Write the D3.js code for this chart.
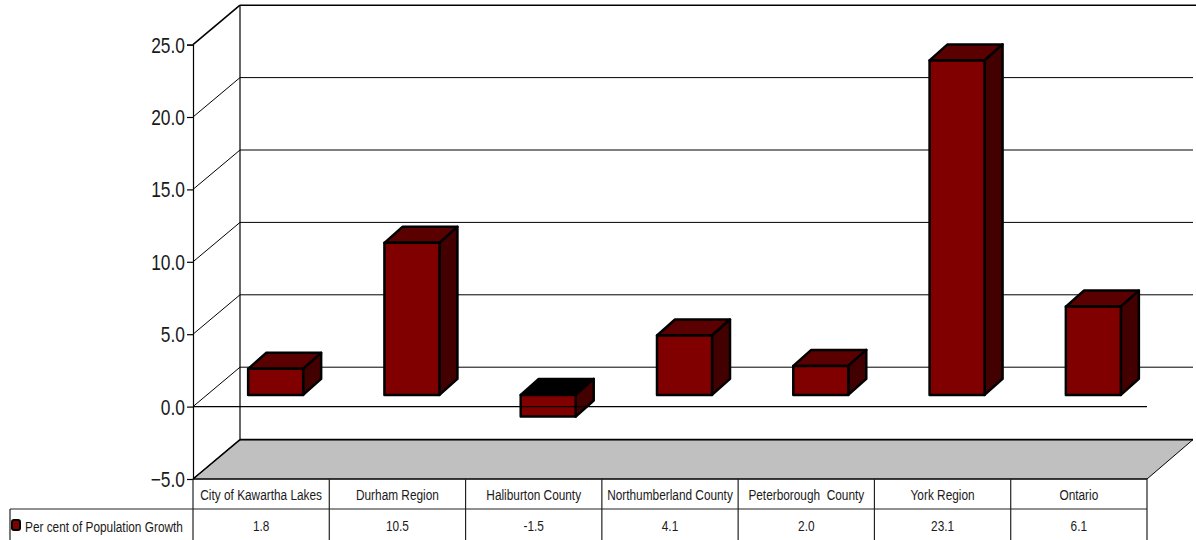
<!DOCTYPE html>
<html>
<head>
<meta charset="utf-8">
<script src="https://cdn.jsdelivr.net/npm/d3@7"></script>
<style>
html,body{margin:0;padding:0;background:#fff;}
svg{display:block;}
text{font-family:"Liberation Sans",Arial,sans-serif;fill:#1a1a1a;}
</style>
</head>
<body>
<svg id="chart" width="1196" height="540"></svg>
<script>
const categories = ["City of Kawartha Lakes","Durham Region","Haliburton County","Northumberland County","Peterborough  County","York Region","Ontario"];
const growth = [1.8,10.5,-1.5,4.1,2.0,23.1,6.1];
const growthLabels = ["1.8","10.5","-1.5","4.1","2.0","23.1","6.1"];
const yTicks = [-5,0,5,10,15,20,25];
const seriesName = "Per cent of Population Growth";

const svg = d3.select("#chart");
const plot = {left:193,right:1147,top:44.6,bottom:479};
const depth = {x:47,y:39.4};        // offset of the back wall
const barDepth = {x:18,y:16};       // depth of each column
const barShift = {x:13,y:11.7};     // columns stand slightly behind the front plane
const rows = [479,509,540];
const legendLeft = 10;
const condense = 0.79;              // horizontal squeeze giving a narrow typeface

const y = d3.scaleLinear().domain([-5,25]).range([plot.bottom,plot.top]);
const x = d3.scaleBand().domain(categories).range([plot.left,plot.right]);
const barW = 55;

const line = (g,x1,y1,x2,y2,w=1,c="#000") => g.append("line")
  .attr("x1",x1).attr("y1",y1).attr("x2",x2).attr("y2",y2)
  .attr("stroke",c).attr("stroke-width",w);

// Floor of the 3D box
svg.append("polygon")
  .attr("points",[[plot.left,plot.bottom],[plot.left+depth.x,plot.bottom-depth.y],
    [1193,plot.bottom-depth.y],[plot.right,plot.bottom]].map(p=>p.join(",")).join(" "))
  .attr("fill","#c0c0c0").attr("stroke","#000").attr("stroke-width",1);

// Back wall gridlines and their diagonals on the side wall
const walls = svg.append("g");
yTicks.forEach(t=>{
  const f = y(t), b = f-depth.y;
  const heavy = t===25||t===-5;
  line(walls,plot.left,f,plot.left+depth.x,b,heavy?1.6:1);
  line(walls,plot.left+depth.x,b,1193+(t===25?3:0),b,heavy?1.6:1);
});
line(walls,plot.left+depth.x,y(25)-depth.y,plot.left+depth.x,y(-5)-depth.y,1.2);

// Value axis
const axis = svg.append("g").attr("transform",`translate(${plot.left},0)`)
  .call(d3.axisLeft(y).tickValues(yTicks).tickSize(6).tickPadding(2).tickFormat(d3.format(".1f")));
axis.selectAll("path,line").attr("stroke","#000").attr("stroke-width",1.2);
axis.selectAll("text").attr("font-size",22).attr("dy","0.34em").attr("fill","#1a1a1a")
  .attr("x",-8/condense).attr("transform",`scale(${condense},1)`);

// Columns
const bars = svg.append("g").selectAll("g").data(categories.map((c,i)=>({c,v:growth[i]}))).join("g");
const zero = y(0)-barShift.y;
const scaleY = v => y(v)-barShift.y;
bars.each(function(d){
  const g = d3.select(this);
  const l = x(d.c)+(x.bandwidth()-barW)/2+barShift.x+1.5;
  const r = l+barW;
  const top = scaleY(Math.max(d.v,0)), bot = scaleY(Math.min(d.v,0));
  const capY = d.v<0 ? zero : top;
  const dx = barDepth.x, dy = barDepth.y;
  const poly = (pts,fill)=>g.append("polygon").attr("points",pts.map(p=>p.join(",")).join(" "))
    .attr("fill",fill).attr("stroke","#000").attr("stroke-width",2.5).attr("stroke-linejoin","round");
  poly([[l,capY],[l+dx,capY-dy],[r+dx,capY-dy],[r,capY]], d.v<0?"#000":"#5a0000");
  poly([[r,top],[r+dx,top-dy],[r+dx,bot-dy],[r,bot]],"#420000");
  poly([[l,top],[r,top],[r,bot],[l,bot]],"#800000");
});

// Zero line passes in front of the columns
line(svg,plot.left,y(0),plot.right,y(0),1.4);

// Data table
const table = svg.append("g");
const tc = "#222";
line(table,plot.left,rows[0],plot.right,rows[0],1.2,"#000");
line(table,legendLeft,rows[1],plot.right,rows[1],1.2,tc);
line(table,legendLeft,rows[1],legendLeft,rows[2],1.2,tc);
x.domain().forEach(c=>line(table,x(c),rows[0],x(c),rows[2],1.2,tc));
line(table,plot.right,rows[0],plot.right,rows[2],1.2,tc);

const label = (txt,px,py,anchor)=>table.append("text")
  .attr("transform",`translate(${px},${py}) scale(${condense},1)`)
  .attr("text-anchor",anchor).attr("font-size",15).attr("xml:space","preserve").text(txt);
categories.forEach((c,i)=>{
  label(c,x(c)+x.bandwidth()/2,500,"middle");
  label(growthLabels[i],x(c)+x.bandwidth()/2,531,"middle");
});

// Legend key and series name
table.append("rect").attr("x",12).attr("y",520).attr("width",8).attr("height",10).attr("rx",2)
  .attr("fill","#800000").attr("stroke","#000").attr("stroke-width",2);
label(seriesName,25,532,"start");
</script>
</body>
</html>
